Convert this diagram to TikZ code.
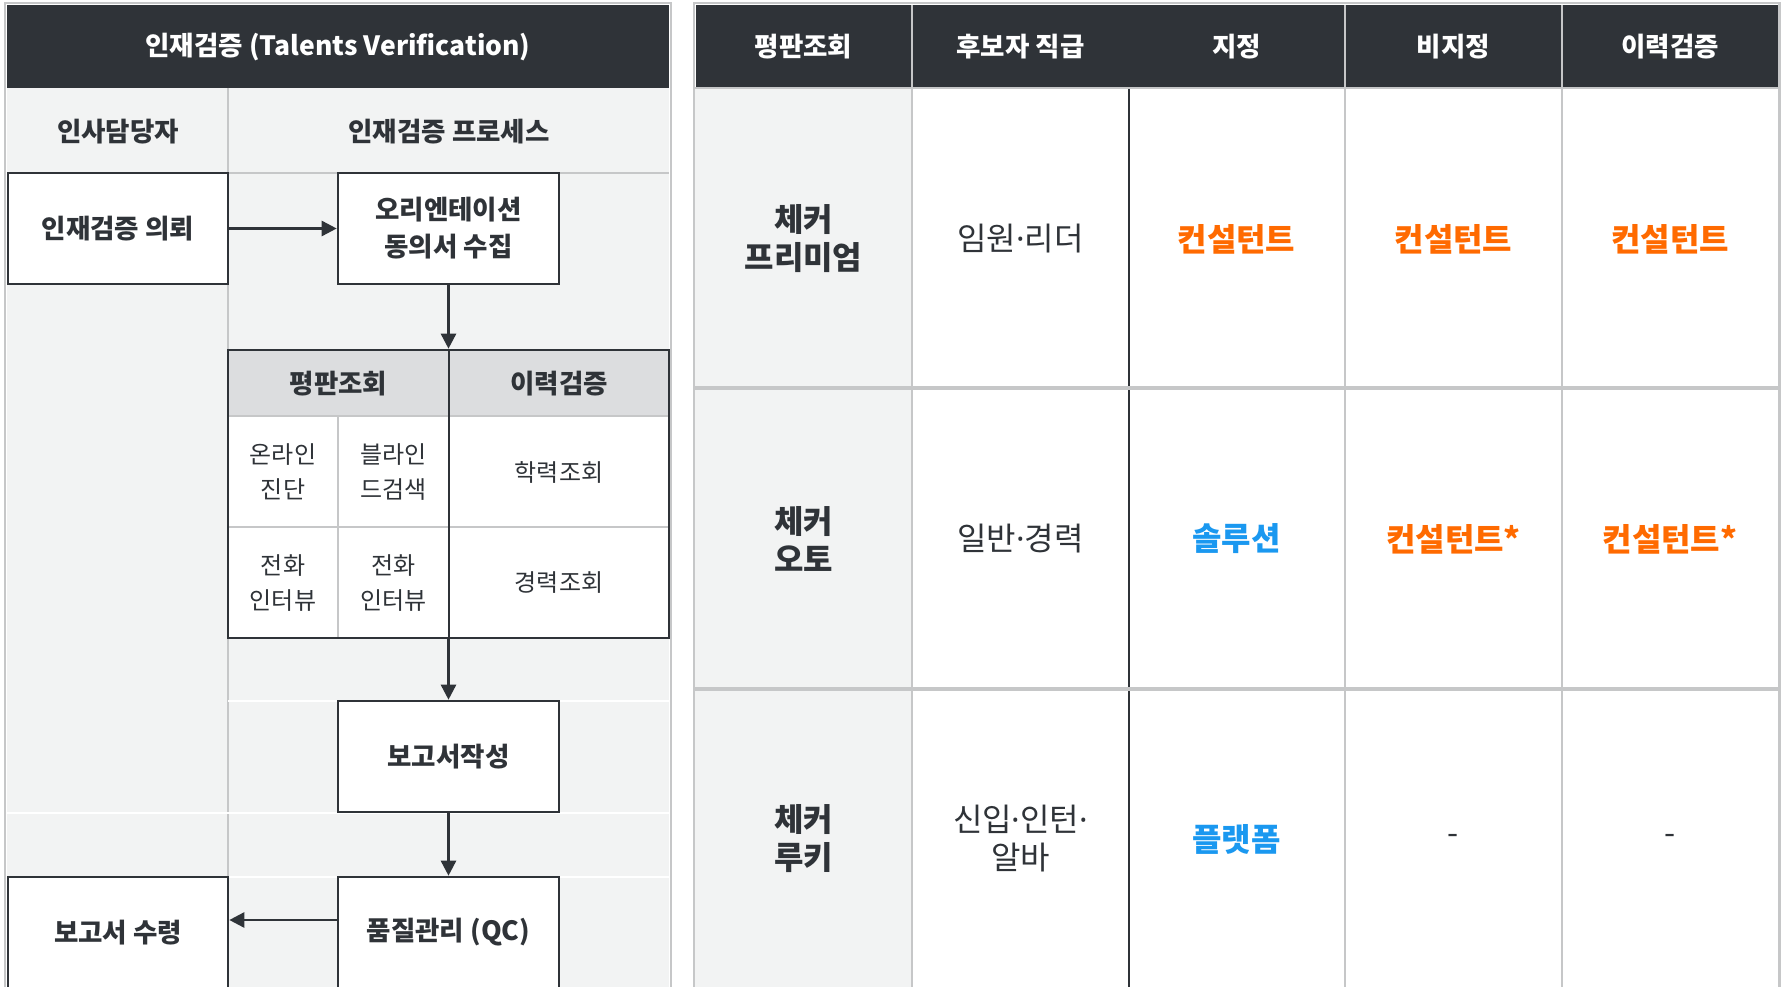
\documentclass[tikz,border=0pt]{standalone}
\usepackage{fontspec}
\setmainfont{Noto Sans CJK KR}
\newfontfamily\latinfont{Noto Sans}
\usepackage{tikz}
\usetikzlibrary{positioning}
\usetikzlibrary{arrows.meta}
\definecolor{ink}{HTML}{2F3338}
\definecolor{lane}{HTML}{F2F3F3}
\definecolor{rule}{HTML}{C6C7C8}
\definecolor{thead}{HTML}{DCDDDF}
\definecolor{consult}{HTML}{FF6A00}
\definecolor{solblue}{HTML}{1A98F0}
\newcommand\pdot{{\latinfont ·}}
\newcommand\ftbold{\fontsize{26.5}{37}\selectfont\bfseries}
\newcommand\ftcell{\fontsize{24}{35}\selectfont}
\newcommand\ftbig{\fontsize{32}{38}\selectfont}
\newcommand\ftbigb{\fontsize{32}{38}\selectfont\bfseries}
\tikzstyle{box} = [rectangle, draw=ink, line width=2.6, fill=white, minimum width=221, minimum height=111, inner sep=0, align=center, font=\ftbold, text=ink]
\tikzstyle{cell} = [rectangle, inner sep=0, align=center, font=\ftcell, text=ink]
\tikzstyle{tcell} = [rectangle, inner sep=0, align=center, font=\ftbig, text=ink]
\tikzstyle{hcell} = [rectangle, inner sep=0, font=\ftbold, text=white]
\tikzstyle{arrow} = [draw=ink, line width=2.6, -{Triangle[length=15pt,width=15pt]}]

\begin{document}
\begin{tikzpicture}[x=1pt, y=-1pt]
\useasboundingbox (0,0) rectangle (1781,987);
\clip (0,0) rectangle (1781,987);
\fill [white] (0,0) rectangle (1781,987);
% left panel
\fill [lane] (7,88) rectangle (669,995);
\draw [rule, line width=2.6] (5,3) rectangle (671,995);
\fill [ink] (7,5) rectangle (669,88);
\draw (338,47) node (title) [hcell] {인재검증 (Talents Verification)};
\draw (118,132) node (hr) [hcell, text=ink] {인사담당자};
\draw (449,132) node (proc) [hcell, text=ink] {인재검증 프로세스};
\draw [rule, line width=2.6] (228,88)--(228,995);
\draw [rule, line width=2.6] (7,173)--(669,173);
\draw [white, line width=1.5] (228,701)--(669,701);
\draw [white, line width=1.5] (7,813)--(669,813);
\draw [white, line width=1.5] (228,877)--(669,877);
\draw (118,228.5) node (req) [box, minimum width=220] {인재검증 의뢰};
\draw (448.5,228.5) node (ori) [box] {오리엔테이션\\동의서 수집};
% table
\fill [thead] (228,350) rectangle (669,416);
\fill [white] (228,416) rectangle (669,638);
\draw (338.5,384) node (rep-h) [hcell, text=ink] {평판조회};
\draw (559,384) node (cv-h) [hcell, text=ink] {이력검증};
\draw (283,472) node (online) [cell] {온라인\\진단};
\draw (393.5,472) node (blind) [cell] {블라인\\드검색};
\draw (559,472) node (edu) [cell] {학력조회};
\draw (283,583) node (call1) [cell] {전화\\인터뷰};
\draw (393.5,583) node (call2) [cell] {전화\\인터뷰};
\draw (559,583) node (job) [cell] {경력조회};
\draw [rule, line width=2.6] (228,416)--(669,416);
\draw [rule, line width=2.6] (228,527)--(669,527);
\draw [rule, line width=2.6] (338,416)--(338,638);
\draw [ink, line width=2.6] (449,350)--(449,638);
\draw (448.5,494) node (tbl) [draw=ink, line width=2.6, minimum width=441, minimum height=288, inner sep=0] {};
\draw (448.5,756.5) node (rep) [box] {보고서작성};
\draw (448.5,932.5) node (qc) [box] {품질관리 (QC)};
\draw (118,932.5) node (recv) [box, minimum width=220] {보고서 수령};
\draw [arrow] (req) -- (ori);
\draw [arrow] (ori) -- (tbl);
\draw [arrow] (tbl) -- (rep);
\draw [arrow] (rep) -- (qc);
\draw [arrow] ([yshift=12.5pt]qc.west) -- ([yshift=12.5pt]recv.east);
% right panel
\fill [lane] (695,88) rectangle (912,995);
\draw [rule, line width=2.6] (694,3) rectangle (1779.5,995);
\fill [ink] (696,5) rectangle (1778,88);
\draw [rule, line width=2.6] (912,5)--(912,995);
\draw [rule, line width=2.6] (1345,5)--(1345,995);
\draw [rule, line width=2.6] (1562,5)--(1562,995);
\draw [ink, line width=2.6] (1129,88)--(1129,995);
\draw [rule, line width=2.6] (695,88)--(1778,88);
\draw [rule, line width=3.5] (695,388)--(1778,388);
\draw [rule, line width=3.5] (695,689)--(1778,689);
\draw (803.5,47) node (th1) [hcell] {평판조회};
\draw (1020.5,47) node (th2) [hcell] {후보자 직급};
\draw (1236.5,47) node (th3) [hcell] {지정};
\draw (1453.5,47) node (th4) [hcell] {비지정};
\draw (1670,47) node (th5) [hcell] {이력검증};
\draw (803.5,239) node (prem) [tcell, font=\ftbigb] {체커\\프리미엄};
\draw (1020.5,239) node (prem-lv) [tcell] {임원\pdot 리더};
\draw (1236.5,239) node (prem-d) [tcell, font=\ftbigb, text=consult] {컨설턴트};
\draw (1453.5,239) node (prem-n) [tcell, font=\ftbigb, text=consult] {컨설턴트};
\draw (1670,239) node (prem-c) [tcell, font=\ftbigb, text=consult] {컨설턴트};
\draw (803.5,539) node (auto) [tcell, font=\ftbigb] {체커\\오토};
\draw (1020.5,539) node (auto-lv) [tcell] {일반\pdot 경력};
\draw (1236.5,539) node (auto-d) [tcell, font=\ftbigb, text=solblue] {솔루션};
\draw (1453.5,539) node (auto-n) [tcell, font=\ftbigb, text=consult] {컨설턴트*};
\draw (1670,539) node (auto-c) [tcell, font=\ftbigb, text=consult] {컨설턴트*};
\draw (803.5,839) node (rook) [tcell, font=\ftbigb] {체커\\루키};
\draw (1020.5,839) node (rook-lv) [tcell] {신입\pdot 인턴\pdot\\알바};
\draw (1236.5,839) node (rook-d) [tcell, font=\ftbigb, text=solblue] {플랫폼};
\draw (1453.5,839) node (rook-n) [tcell] {-};
\draw (1670,839) node (rook-c) [tcell] {-};
\end{tikzpicture}
\end{document}
